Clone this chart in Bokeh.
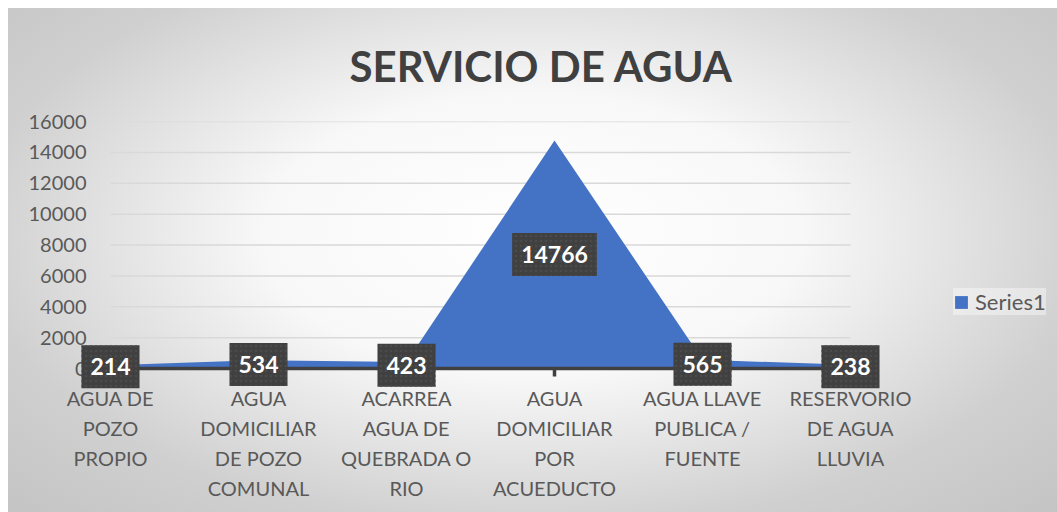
from bokeh.plotting import figure
from bokeh.models import (Range1d, FixedTicker, Legend, LegendItem, Label,
                          ColumnDataSource)
from bokeh.embed import file_html
from bokeh.resources import INLINE

# ---- data ----
categories = [
    "AGUA DE\nPOZO\nPROPIO",
    "AGUA\nDOMICILIAR\nDE POZO\nCOMUNAL",
    "ACARREA\nAGUA DE\nQUEBRADA O\nRIO",
    "AGUA\nDOMICILIAR\nPOR\nACUEDUCTO",
    "AGUA LLAVE\nPUBLICA /\nFUENTE",
    "RESERVORIO\nDE AGUA\nLLUVIA",
]
values = [214, 534, 423, 14766, 565, 238]
y_ticks = [0, 2000, 4000, 6000, 8000, 10000, 12000, 14000, 16000]
series_name = "Series1"
title_text = "SERVICIO DE AGUA"

xs = list(range(len(categories)))
src = ColumnDataSource(dict(x=xs, v=values))
grid_y = y_ticks[1:]

# ---- layout (pixels on the canvas) ----
W, H = 1049, 504
FRAME_L, FRAME_R = 70, W          # frame spans the labels + legend area
FRAME_T, FRAME_B = 113, 383
X0_PX, X_STEP = 102, 148           # first category position, spacing
ZERO_PX = 360                      # y = 0 position
px_per_y = (ZERO_PX - FRAME_T) / y_ticks[-1]
x_start = xs[0] - (X0_PX - FRAME_L) / X_STEP
x_end = xs[0] + (FRAME_R - X0_PX) / X_STEP
y_start = -(FRAME_B - ZERO_PX) / px_per_y
tick_len = 8 / px_per_y

FONT = "Lato"
TXT = "#595959"
DARK = "#404040"

p = figure(width=W, height=H, output_backend="svg", toolbar_location=None,
           x_range=Range1d(x_start, x_end), y_range=Range1d(y_start, y_ticks[-1]),
           min_border_left=FRAME_L, min_border_right=W - FRAME_R,
           min_border_top=FRAME_T, min_border_bottom=H - FRAME_B)
p.margin = (8, 0, 0, 8)

p.styles = {"background": "radial-gradient(ellipse farthest-corner at 50% 45%, #ffffff 0%, #f8f8f8 36%, #d0d0d0 75%, #c4c4c4 100%)"}
p.background_fill_alpha = 0
p.border_fill_alpha = 0
p.outline_line_color = None

# title
p.title.text = title_text
p.title.align = "left"
p.title.vertical_align = "top"
p.title.offset = 271
p.title.standoff = 58
p.title.text_font = FONT
p.title.text_font_size = "42px"
p.title.text_font_style = "bold"
p.title.text_color = DARK

# gridlines (span only the category extent)
p.segment(x0=xs[0], x1=xs[-1], y0=grid_y, y1=grid_y, line_color="#d9d9d9", line_width=1.5)
p.xgrid.grid_line_color = None
p.ygrid.grid_line_color = None

# area
area = p.varea(x="x", y1=0, y2="v", source=src, fill_color="#4472C4")

# category axis line at zero and its tick marks
p.segment(x0=xs[0], x1=xs[-1], y0=0, y1=0, line_color=DARK, line_width=3.5)
p.segment(x0=xs, x1=xs, y0=0, y1=-tick_len, line_color=DARK, line_width=3.5)

# axes (labels only)
xa = p.xaxis[0]
xa.ticker = FixedTicker(ticks=xs)
xa.major_label_overrides = {i: c for i, c in zip(xs, categories)}
xa.axis_line_color = None
xa.major_tick_line_color = None
xa.minor_tick_line_color = None
xa.major_tick_out = 0
xa.major_tick_in = 0
xa.major_label_standoff = -6
xa.major_label_text_font = FONT
xa.major_label_text_font_size = "20px"
xa.major_label_text_color = TXT
xa.major_label_text_line_height = 1.26

ya = p.yaxis[0]
ya.ticker = FixedTicker(ticks=y_ticks)
ya.axis_line_color = None
ya.major_tick_line_color = None
ya.minor_tick_line_color = None
ya.major_tick_out = 0
ya.major_tick_in = 0
ya.major_label_standoff = -8
ya.major_label_text_font = FONT
ya.major_label_text_font_size = "20px"
ya.major_label_text_color = TXT

# data labels
for x, v in zip(xs, values):
    p.add_layout(Label(x=x, y=v / 2, text=str(v), text_align="center",
                       text_baseline="middle", text_color="white",
                       text_font=FONT, text_font_style="bold", text_font_size="23px",
                       background_fill_color=DARK,
                       padding=dict(left=9, right=9, top=13, bottom=13),
                       background_hatch_pattern=".", background_hatch_color="#4b4b4b",
                       background_hatch_scale=5))

# legend
legend = Legend(items=[LegendItem(label=series_name, renderers=[area])],
                location=(945 - FRAME_L, FRAME_B - 307), orientation="vertical",
                label_text_font=FONT, label_text_font_size="22px", label_text_color=TXT,
                glyph_width=16, glyph_height=16, label_standoff=6, padding=12,
                margin=0, spacing=0, background_fill_color="white",
                background_fill_alpha=0.4, border_line_color=None)
p.add_layout(legend)

open("out.html", "w").write(file_html(p, INLINE))
